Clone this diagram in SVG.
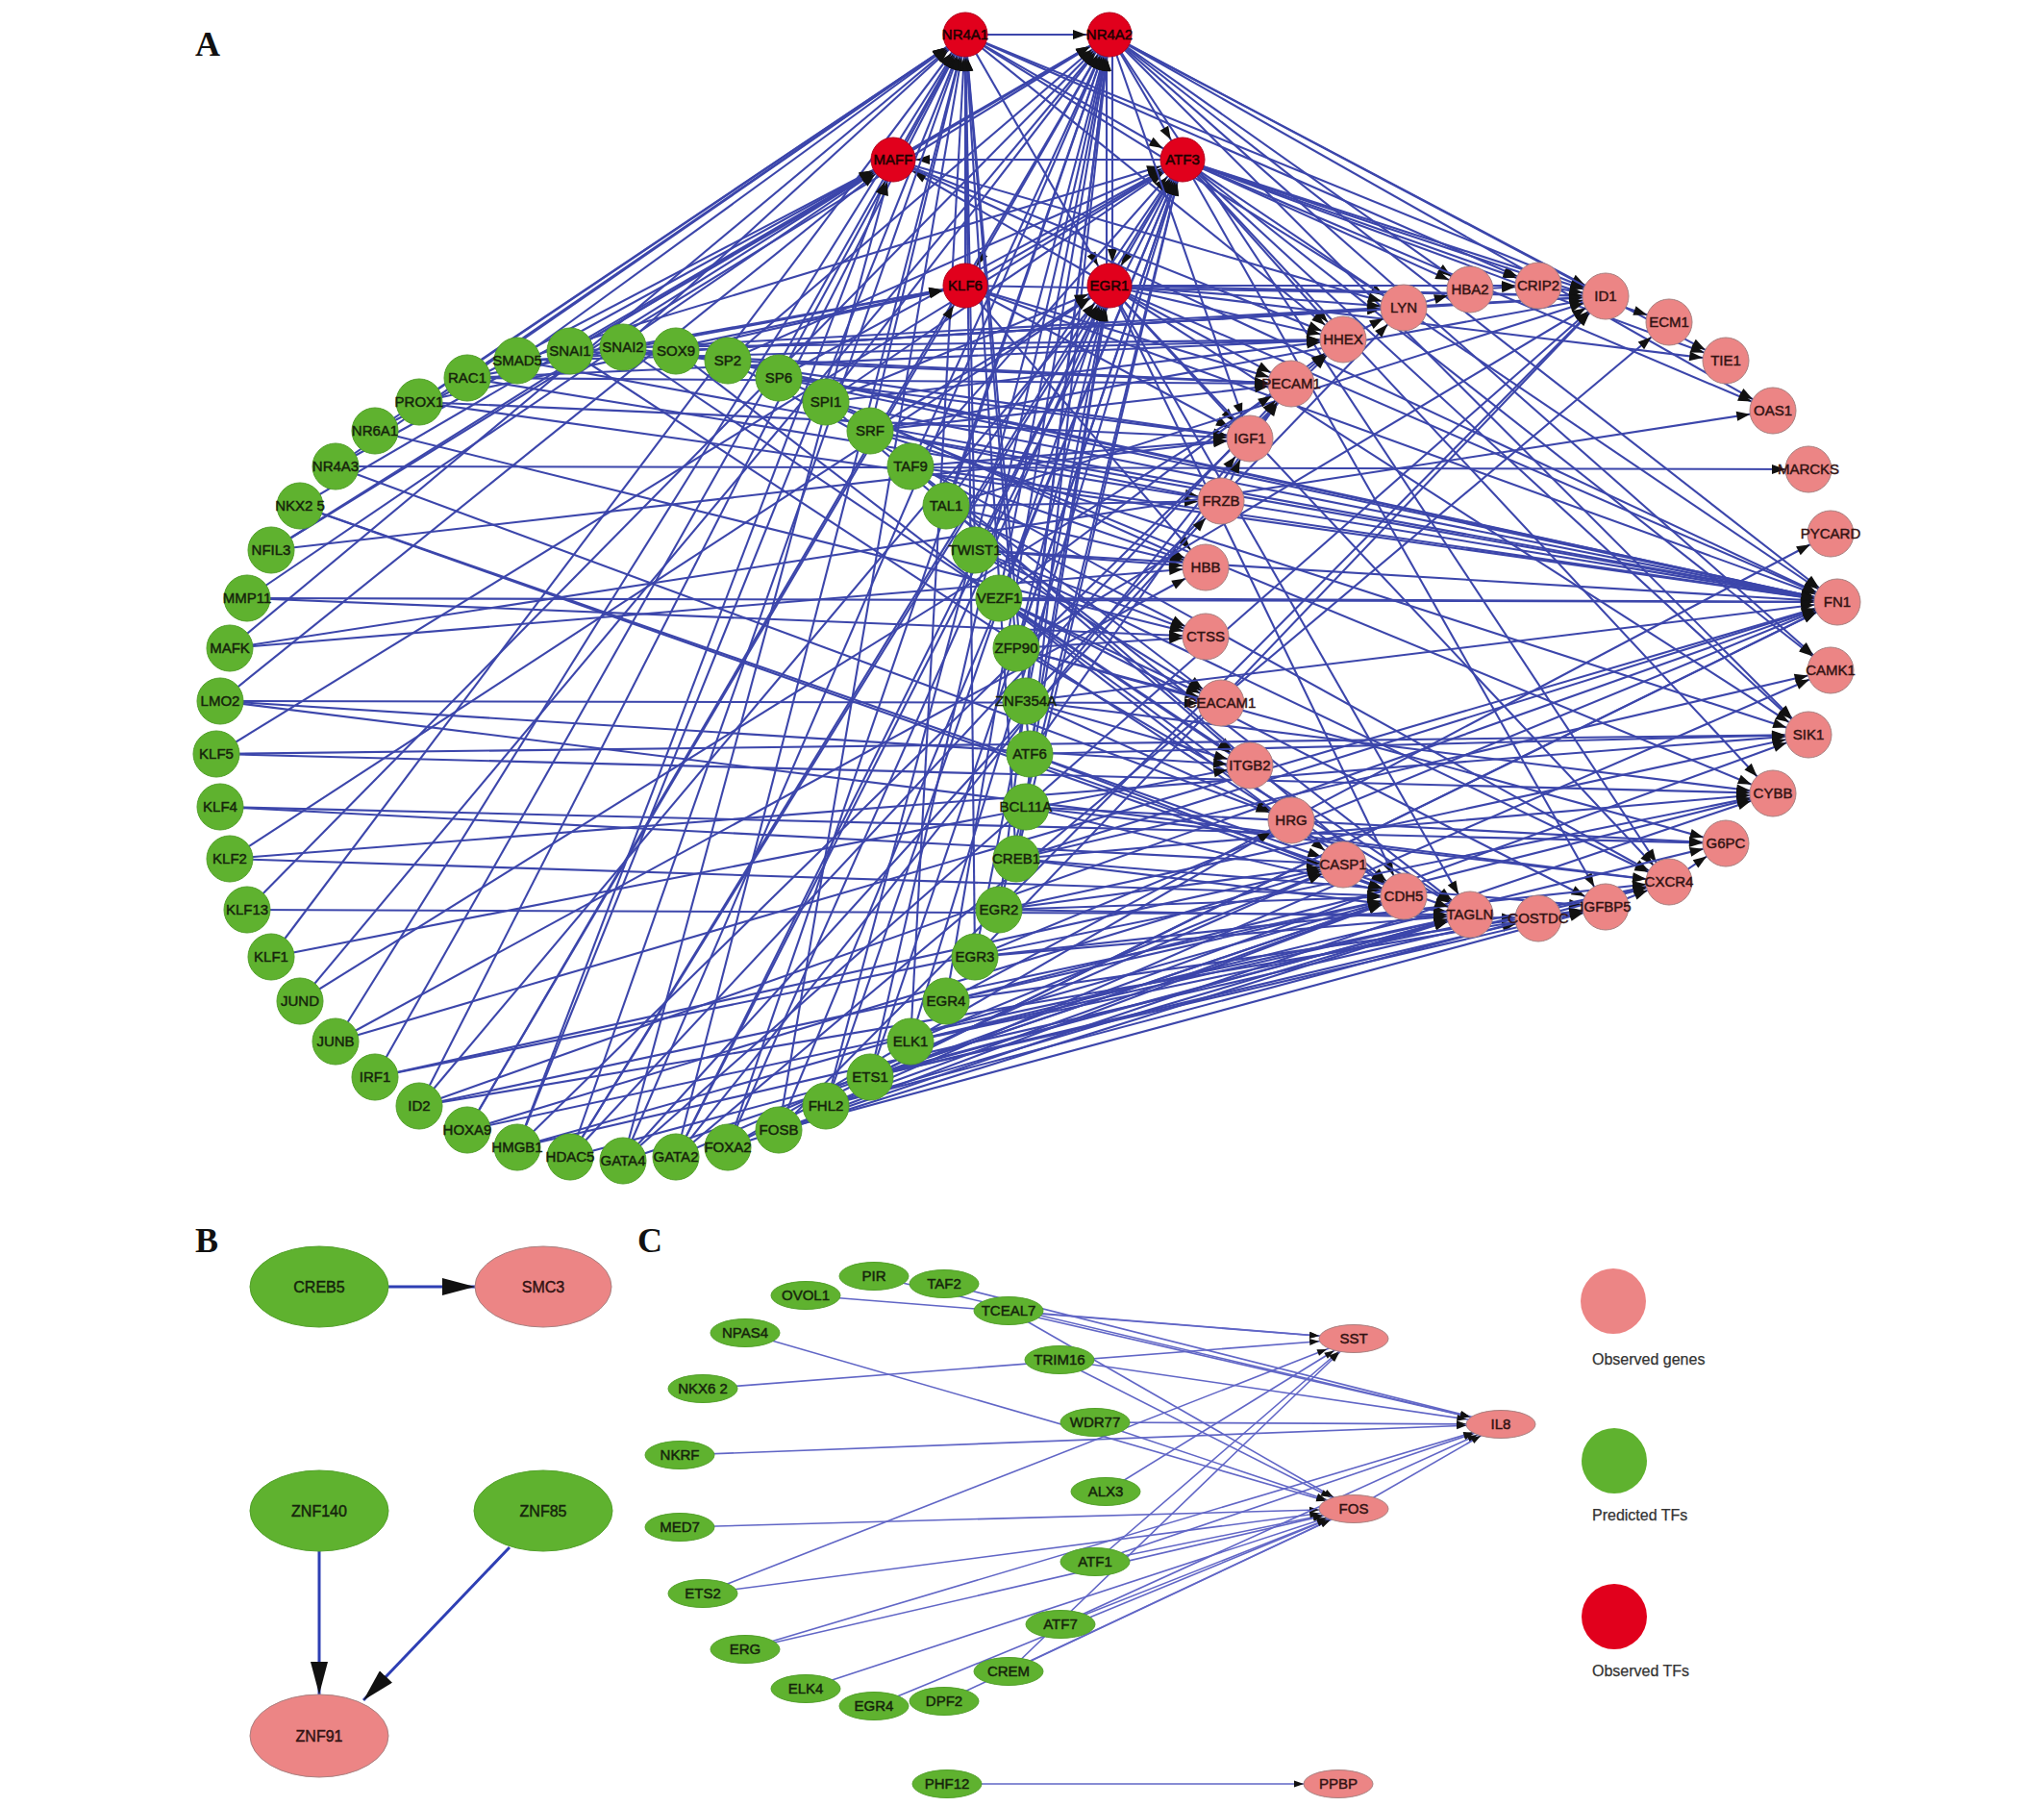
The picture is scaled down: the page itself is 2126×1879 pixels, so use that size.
<svg xmlns="http://www.w3.org/2000/svg" width="2126" height="1879" viewBox="0 0 2126 1879">
<style>
.e line{stroke:#3c46ab;stroke-width:2.1;fill:none;marker-end:url(#a)}
.g{fill:#5fb22f;stroke:#52a02a;stroke-width:1}
.p{fill:#ec8585;stroke:#a98080;stroke-width:1}
.r{fill:#e1001c;stroke:#b3001a;stroke-width:1}
text{font-family:"Liberation Sans",Arial,sans-serif;font-size:15px;text-anchor:middle}
.gt{fill:#15240c;stroke:#15240c;stroke-width:0.45}
.pt{fill:#331313;stroke:#331313;stroke-width:0.45}
.rt{fill:#200000;stroke:#200000;stroke-width:0.5}
.pl{font-family:"Liberation Serif","Times New Roman",serif;font-weight:bold;font-size:36px;text-anchor:start;fill:#111}
.lg{font-size:16px;text-anchor:start;fill:#333;stroke:#333;stroke-width:0.25}
.bt{font-size:16px}
.b line{stroke:#2e3fb4;stroke-width:3;marker-end:url(#bm)}
.c line{stroke:#6166c6;stroke-width:1.6}
.m36{marker-end:url(#c36)}.m33{marker-end:url(#c33)}.m30{marker-end:url(#c30)}.m27{marker-end:url(#c27)}.m24{marker-end:url(#c24)}.m21{marker-end:url(#c21)}
</style>
<defs>
<marker id="a" markerUnits="userSpaceOnUse" markerWidth="40" markerHeight="12" viewBox="0 0 40 12" refX="40" refY="6" orient="auto"><path d="M2,1 L16,6 L2,11 z" fill="#111"/></marker>
<marker id="bm" markerUnits="userSpaceOnUse" markerWidth="34" markerHeight="18" viewBox="0 0 34 18" refX="34" refY="9" orient="auto"><path d="M0,0 L34,9 L0,18 z" fill="#111"/></marker>
<marker id="c36" markerUnits="userSpaceOnUse" markerWidth="50" markerHeight="10" viewBox="0 0 50 10" refX="50" refY="5" orient="auto"><path d="M4,1.5 L14,5 L4,8.5 z" fill="#111"/></marker>
<marker id="c33" markerUnits="userSpaceOnUse" markerWidth="50" markerHeight="10" viewBox="0 0 50 10" refX="50" refY="5" orient="auto"><path d="M7,1.5 L17,5 L7,8.5 z" fill="#111"/></marker>
<marker id="c30" markerUnits="userSpaceOnUse" markerWidth="50" markerHeight="10" viewBox="0 0 50 10" refX="50" refY="5" orient="auto"><path d="M10,1.5 L20,5 L10,8.5 z" fill="#111"/></marker>
<marker id="c27" markerUnits="userSpaceOnUse" markerWidth="50" markerHeight="10" viewBox="0 0 50 10" refX="50" refY="5" orient="auto"><path d="M13,1.5 L23,5 L13,8.5 z" fill="#111"/></marker>
<marker id="c24" markerUnits="userSpaceOnUse" markerWidth="50" markerHeight="10" viewBox="0 0 50 10" refX="50" refY="5" orient="auto"><path d="M16,1.5 L26,5 L16,8.5 z" fill="#111"/></marker>
<marker id="c21" markerUnits="userSpaceOnUse" markerWidth="50" markerHeight="10" viewBox="0 0 50 10" refX="50" refY="5" orient="auto"><path d="M19,1.5 L29,5 L19,8.5 z" fill="#111"/></marker>
</defs>
<rect width="2126" height="1879" fill="#fff"/>
<text class="pl" x="203" y="58">A</text>
<text class="pl" x="203" y="1302">B</text>
<text class="pl" x="663" y="1302">C</text>

<g id="edges-A" class="e">
<line x1="1004" y1="36" x2="1154" y2="36"/>
<line x1="1004" y1="36" x2="1230" y2="166"/>
<line x1="1004" y1="36" x2="1154" y2="297"/>
<line x1="1154" y1="36" x2="1230" y2="166"/>
<line x1="1157" y1="36" x2="1157" y2="297"/>
<line x1="1154" y1="36" x2="1004" y2="297"/>
<line x1="1230" y1="166" x2="929" y2="166"/>
<line x1="1230" y1="166" x2="1154" y2="297"/>
<line x1="929" y1="166" x2="1154" y2="36"/>
<line x1="1004" y1="297" x2="1004" y2="36"/>
<line x1="1151" y1="297" x2="1151" y2="36"/>
<line x1="1004" y1="297" x2="1230" y2="166"/>
<line x1="1154" y1="297" x2="929" y2="166"/>
<line x1="349" y1="485" x2="1004" y2="36"/>
<line x1="390" y1="448" x2="1004" y2="36"/>
<line x1="436" y1="418" x2="1004" y2="36"/>
<line x1="486" y1="393" x2="1004" y2="36"/>
<line x1="538" y1="375" x2="1004" y2="36"/>
<line x1="648" y1="361" x2="1004" y2="36"/>
<line x1="810" y1="393" x2="1004" y2="36"/>
<line x1="905" y1="448" x2="1004" y2="36"/>
<line x1="1014" y1="572" x2="1004" y2="36"/>
<line x1="1057" y1="674" x2="1004" y2="36"/>
<line x1="1071" y1="784" x2="1004" y2="36"/>
<line x1="1057" y1="893" x2="1004" y2="36"/>
<line x1="1014" y1="995" x2="1004" y2="36"/>
<line x1="947" y1="1083" x2="1004" y2="36"/>
<line x1="810" y1="1175" x2="1004" y2="36"/>
<line x1="703" y1="1203" x2="1004" y2="36"/>
<line x1="538" y1="1193" x2="1004" y2="36"/>
<line x1="593" y1="1203" x2="1004" y2="36"/>
<line x1="436" y1="1150" x2="1004" y2="36"/>
<line x1="390" y1="1120" x2="1004" y2="36"/>
<line x1="349" y1="1083" x2="1004" y2="36"/>
<line x1="282" y1="995" x2="1004" y2="36"/>
<line x1="239" y1="674" x2="1004" y2="36"/>
<line x1="593" y1="365" x2="1154" y2="36"/>
<line x1="757" y1="375" x2="1154" y2="36"/>
<line x1="859" y1="418" x2="1154" y2="36"/>
<line x1="947" y1="485" x2="1154" y2="36"/>
<line x1="984" y1="526" x2="1154" y2="36"/>
<line x1="1039" y1="622" x2="1154" y2="36"/>
<line x1="1067" y1="729" x2="1154" y2="36"/>
<line x1="1067" y1="839" x2="1154" y2="36"/>
<line x1="1039" y1="946" x2="1154" y2="36"/>
<line x1="984" y1="1041" x2="1154" y2="36"/>
<line x1="905" y1="1120" x2="1154" y2="36"/>
<line x1="859" y1="1150" x2="1154" y2="36"/>
<line x1="757" y1="1193" x2="1154" y2="36"/>
<line x1="648" y1="1207" x2="1154" y2="36"/>
<line x1="486" y1="1175" x2="1154" y2="36"/>
<line x1="312" y1="1041" x2="1154" y2="36"/>
<line x1="257" y1="946" x2="1154" y2="36"/>
<line x1="282" y1="572" x2="1154" y2="36"/>
<line x1="349" y1="485" x2="929" y2="166"/>
<line x1="390" y1="448" x2="929" y2="166"/>
<line x1="312" y1="526" x2="929" y2="166"/>
<line x1="282" y1="572" x2="929" y2="166"/>
<line x1="257" y1="622" x2="929" y2="166"/>
<line x1="593" y1="365" x2="929" y2="166"/>
<line x1="538" y1="1193" x2="929" y2="166"/>
<line x1="648" y1="1207" x2="929" y2="166"/>
<line x1="229" y1="729" x2="929" y2="166"/>
<line x1="538" y1="375" x2="1230" y2="166"/>
<line x1="757" y1="375" x2="1230" y2="166"/>
<line x1="810" y1="393" x2="1230" y2="166"/>
<line x1="859" y1="418" x2="1230" y2="166"/>
<line x1="947" y1="485" x2="1230" y2="166"/>
<line x1="984" y1="526" x2="1230" y2="166"/>
<line x1="1039" y1="622" x2="1230" y2="166"/>
<line x1="1057" y1="674" x2="1230" y2="166"/>
<line x1="1057" y1="893" x2="1230" y2="166"/>
<line x1="1039" y1="946" x2="1230" y2="166"/>
<line x1="947" y1="1083" x2="1230" y2="166"/>
<line x1="905" y1="1120" x2="1230" y2="166"/>
<line x1="810" y1="1175" x2="1230" y2="166"/>
<line x1="703" y1="1203" x2="1230" y2="166"/>
<line x1="225" y1="784" x2="1230" y2="166"/>
<line x1="593" y1="1203" x2="1230" y2="166"/>
<line x1="486" y1="393" x2="1004" y2="297"/>
<line x1="648" y1="361" x2="1004" y2="297"/>
<line x1="436" y1="418" x2="1004" y2="297"/>
<line x1="703" y1="365" x2="1004" y2="297"/>
<line x1="486" y1="1175" x2="1004" y2="297"/>
<line x1="859" y1="418" x2="1154" y2="297"/>
<line x1="905" y1="448" x2="1154" y2="297"/>
<line x1="1014" y1="572" x2="1154" y2="297"/>
<line x1="1057" y1="674" x2="1154" y2="297"/>
<line x1="1071" y1="784" x2="1154" y2="297"/>
<line x1="1057" y1="893" x2="1154" y2="297"/>
<line x1="1014" y1="995" x2="1154" y2="297"/>
<line x1="859" y1="1150" x2="1154" y2="297"/>
<line x1="757" y1="1193" x2="1154" y2="297"/>
<line x1="703" y1="1203" x2="1154" y2="297"/>
<line x1="593" y1="1203" x2="1154" y2="297"/>
<line x1="239" y1="893" x2="1154" y2="297"/>
<line x1="436" y1="1150" x2="1154" y2="297"/>
<line x1="1004" y1="36" x2="1460" y2="320"/>
<line x1="1004" y1="36" x2="1670" y2="308"/>
<line x1="1004" y1="36" x2="1397" y2="353"/>
<line x1="1004" y1="36" x2="1600" y2="297"/>
<line x1="1154" y1="36" x2="1670" y2="308"/>
<line x1="1154" y1="36" x2="1795" y2="375"/>
<line x1="1154" y1="36" x2="1844" y2="427"/>
<line x1="1154" y1="36" x2="1911" y2="626"/>
<line x1="1154" y1="36" x2="1904" y2="697"/>
<line x1="1154" y1="36" x2="1881" y2="764"/>
<line x1="1154" y1="36" x2="1529" y2="301"/>
<line x1="1154" y1="36" x2="1300" y2="456"/>
<line x1="1154" y1="36" x2="1736" y2="917"/>
<line x1="1230" y1="166" x2="1670" y2="308"/>
<line x1="1230" y1="166" x2="1600" y2="297"/>
<line x1="1230" y1="166" x2="1529" y2="301"/>
<line x1="1230" y1="166" x2="1795" y2="375"/>
<line x1="1230" y1="166" x2="1736" y2="335"/>
<line x1="1230" y1="166" x2="1844" y2="427"/>
<line x1="1230" y1="166" x2="1911" y2="626"/>
<line x1="1230" y1="166" x2="1904" y2="697"/>
<line x1="1230" y1="166" x2="1881" y2="764"/>
<line x1="1230" y1="166" x2="1397" y2="353"/>
<line x1="1230" y1="166" x2="1844" y2="825"/>
<line x1="1230" y1="166" x2="1670" y2="943"/>
<line x1="929" y1="166" x2="1397" y2="353"/>
<line x1="929" y1="166" x2="1460" y2="320"/>
<line x1="929" y1="166" x2="1911" y2="626"/>
<line x1="1004" y1="297" x2="1670" y2="308"/>
<line x1="1004" y1="297" x2="1343" y2="399"/>
<line x1="1004" y1="297" x2="1300" y2="456"/>
<line x1="1004" y1="297" x2="1911" y2="626"/>
<line x1="1004" y1="297" x2="1254" y2="590"/>
<line x1="1154" y1="297" x2="1670" y2="308"/>
<line x1="1154" y1="297" x2="1460" y2="320"/>
<line x1="1154" y1="297" x2="1600" y2="297"/>
<line x1="1154" y1="297" x2="1911" y2="626"/>
<line x1="1154" y1="297" x2="1343" y2="399"/>
<line x1="1154" y1="297" x2="1397" y2="353"/>
<line x1="1154" y1="297" x2="1300" y2="456"/>
<line x1="1154" y1="297" x2="1795" y2="375"/>
<line x1="1154" y1="297" x2="1881" y2="764"/>
<line x1="1154" y1="297" x2="1736" y2="917"/>
<line x1="1154" y1="297" x2="1460" y2="932"/>
<line x1="1154" y1="297" x2="1529" y2="951"/>
<line x1="538" y1="375" x2="1397" y2="353"/>
<line x1="538" y1="375" x2="1911" y2="626"/>
<line x1="538" y1="375" x2="1460" y2="320"/>
<line x1="593" y1="365" x2="1343" y2="399"/>
<line x1="593" y1="365" x2="1670" y2="308"/>
<line x1="593" y1="365" x2="1460" y2="932"/>
<line x1="648" y1="361" x2="1397" y2="353"/>
<line x1="648" y1="361" x2="1300" y2="456"/>
<line x1="648" y1="361" x2="1529" y2="951"/>
<line x1="703" y1="365" x2="1911" y2="626"/>
<line x1="703" y1="365" x2="1460" y2="320"/>
<line x1="703" y1="365" x2="1670" y2="308"/>
<line x1="703" y1="365" x2="1397" y2="899"/>
<line x1="757" y1="375" x2="1911" y2="626"/>
<line x1="757" y1="375" x2="1343" y2="399"/>
<line x1="757" y1="375" x2="1736" y2="917"/>
<line x1="810" y1="393" x2="1911" y2="626"/>
<line x1="810" y1="393" x2="1300" y2="456"/>
<line x1="810" y1="393" x2="1254" y2="590"/>
<line x1="859" y1="418" x2="1911" y2="626"/>
<line x1="859" y1="418" x2="1397" y2="353"/>
<line x1="859" y1="418" x2="1300" y2="796"/>
<line x1="859" y1="418" x2="1844" y2="825"/>
<line x1="905" y1="448" x2="1911" y2="626"/>
<line x1="905" y1="448" x2="1270" y2="521"/>
<line x1="905" y1="448" x2="1343" y2="399"/>
<line x1="905" y1="448" x2="1670" y2="308"/>
<line x1="905" y1="448" x2="1881" y2="764"/>
<line x1="947" y1="485" x2="1911" y2="626"/>
<line x1="947" y1="485" x2="1300" y2="456"/>
<line x1="947" y1="485" x2="1270" y2="731"/>
<line x1="947" y1="485" x2="1254" y2="590"/>
<line x1="947" y1="485" x2="1460" y2="932"/>
<line x1="984" y1="526" x2="1254" y2="590"/>
<line x1="984" y1="526" x2="1270" y2="521"/>
<line x1="984" y1="526" x2="1670" y2="308"/>
<line x1="984" y1="526" x2="1254" y2="662"/>
<line x1="984" y1="526" x2="1529" y2="951"/>
<line x1="1014" y1="572" x2="1254" y2="590"/>
<line x1="1014" y1="572" x2="1254" y2="662"/>
<line x1="1014" y1="572" x2="1270" y2="731"/>
<line x1="1014" y1="572" x2="1911" y2="626"/>
<line x1="1014" y1="572" x2="1736" y2="917"/>
<line x1="1039" y1="622" x2="1300" y2="796"/>
<line x1="1039" y1="622" x2="1270" y2="731"/>
<line x1="1039" y1="622" x2="1911" y2="626"/>
<line x1="1039" y1="622" x2="1670" y2="943"/>
<line x1="1039" y1="622" x2="1460" y2="932"/>
<line x1="1039" y1="622" x2="1397" y2="353"/>
<line x1="1057" y1="674" x2="1270" y2="731"/>
<line x1="1057" y1="674" x2="1254" y2="662"/>
<line x1="1057" y1="674" x2="1795" y2="877"/>
<line x1="1057" y1="674" x2="1529" y2="951"/>
<line x1="1057" y1="674" x2="1670" y2="308"/>
<line x1="1067" y1="729" x2="1300" y2="796"/>
<line x1="1067" y1="729" x2="1343" y2="853"/>
<line x1="1067" y1="729" x2="1911" y2="626"/>
<line x1="1067" y1="729" x2="1844" y2="825"/>
<line x1="1067" y1="729" x2="1460" y2="320"/>
<line x1="1071" y1="784" x2="1397" y2="899"/>
<line x1="1071" y1="784" x2="1881" y2="764"/>
<line x1="1071" y1="784" x2="1460" y2="932"/>
<line x1="1071" y1="784" x2="1343" y2="399"/>
<line x1="1067" y1="839" x2="1460" y2="932"/>
<line x1="1067" y1="839" x2="1795" y2="877"/>
<line x1="1067" y1="839" x2="1736" y2="917"/>
<line x1="1057" y1="893" x2="1529" y2="951"/>
<line x1="1057" y1="893" x2="1844" y2="825"/>
<line x1="1057" y1="893" x2="1911" y2="626"/>
<line x1="1057" y1="893" x2="1904" y2="697"/>
<line x1="1057" y1="893" x2="1670" y2="943"/>
<line x1="1039" y1="946" x2="1460" y2="932"/>
<line x1="1039" y1="946" x2="1397" y2="899"/>
<line x1="1039" y1="946" x2="1881" y2="764"/>
<line x1="1039" y1="946" x2="1600" y2="955"/>
<line x1="1014" y1="995" x2="1529" y2="951"/>
<line x1="1014" y1="995" x2="1736" y2="917"/>
<line x1="1014" y1="995" x2="1911" y2="626"/>
<line x1="1014" y1="995" x2="1670" y2="308"/>
<line x1="984" y1="1041" x2="1460" y2="932"/>
<line x1="984" y1="1041" x2="1670" y2="943"/>
<line x1="984" y1="1041" x2="1844" y2="825"/>
<line x1="984" y1="1041" x2="1904" y2="555"/>
<line x1="947" y1="1083" x2="1529" y2="951"/>
<line x1="947" y1="1083" x2="1397" y2="899"/>
<line x1="947" y1="1083" x2="1736" y2="917"/>
<line x1="947" y1="1083" x2="1795" y2="877"/>
<line x1="905" y1="1120" x2="1460" y2="932"/>
<line x1="905" y1="1120" x2="1529" y2="951"/>
<line x1="905" y1="1120" x2="1600" y2="955"/>
<line x1="905" y1="1120" x2="1670" y2="943"/>
<line x1="905" y1="1120" x2="1911" y2="626"/>
<line x1="905" y1="1120" x2="1881" y2="764"/>
<line x1="859" y1="1150" x2="1460" y2="932"/>
<line x1="859" y1="1150" x2="1529" y2="951"/>
<line x1="859" y1="1150" x2="1736" y2="917"/>
<line x1="859" y1="1150" x2="1904" y2="697"/>
<line x1="810" y1="1175" x2="1460" y2="932"/>
<line x1="810" y1="1175" x2="1670" y2="943"/>
<line x1="810" y1="1175" x2="1844" y2="825"/>
<line x1="810" y1="1175" x2="1670" y2="308"/>
<line x1="757" y1="1193" x2="1529" y2="951"/>
<line x1="757" y1="1193" x2="1343" y2="853"/>
<line x1="757" y1="1193" x2="1911" y2="626"/>
<line x1="703" y1="1203" x2="1397" y2="899"/>
<line x1="703" y1="1203" x2="1736" y2="335"/>
<line x1="703" y1="1203" x2="1300" y2="456"/>
<line x1="648" y1="1207" x2="1460" y2="932"/>
<line x1="648" y1="1207" x2="1670" y2="308"/>
<line x1="648" y1="1207" x2="1270" y2="521"/>
<line x1="593" y1="1203" x2="1529" y2="951"/>
<line x1="593" y1="1203" x2="1343" y2="399"/>
<line x1="538" y1="1193" x2="1460" y2="932"/>
<line x1="538" y1="1193" x2="1736" y2="917"/>
<line x1="538" y1="1193" x2="1397" y2="353"/>
<line x1="486" y1="1175" x2="1397" y2="899"/>
<line x1="486" y1="1175" x2="1529" y2="951"/>
<line x1="436" y1="1150" x2="1460" y2="932"/>
<line x1="436" y1="1150" x2="1670" y2="943"/>
<line x1="436" y1="1150" x2="1911" y2="626"/>
<line x1="390" y1="1120" x2="1397" y2="899"/>
<line x1="390" y1="1120" x2="1844" y2="825"/>
<line x1="349" y1="1083" x2="1254" y2="590"/>
<line x1="349" y1="1083" x2="1911" y2="626"/>
<line x1="312" y1="1041" x2="1343" y2="399"/>
<line x1="282" y1="995" x2="1300" y2="796"/>
<line x1="257" y1="946" x2="1529" y2="951"/>
<line x1="239" y1="893" x2="1460" y2="932"/>
<line x1="239" y1="893" x2="1881" y2="764"/>
<line x1="229" y1="839" x2="1397" y2="899"/>
<line x1="229" y1="839" x2="1795" y2="877"/>
<line x1="225" y1="784" x2="1881" y2="764"/>
<line x1="225" y1="784" x2="1844" y2="825"/>
<line x1="229" y1="729" x2="1270" y2="731"/>
<line x1="229" y1="729" x2="1300" y2="796"/>
<line x1="229" y1="729" x2="1736" y2="917"/>
<line x1="239" y1="674" x2="1254" y2="590"/>
<line x1="239" y1="674" x2="1844" y2="427"/>
<line x1="257" y1="622" x2="1911" y2="626"/>
<line x1="257" y1="622" x2="1254" y2="662"/>
<line x1="282" y1="572" x2="1300" y2="456"/>
<line x1="312" y1="526" x2="1460" y2="932"/>
<line x1="312" y1="526" x2="1529" y2="951"/>
<line x1="349" y1="485" x2="1343" y2="853"/>
<line x1="349" y1="485" x2="1881" y2="488"/>
<line x1="390" y1="448" x2="1254" y2="662"/>
<line x1="436" y1="418" x2="1911" y2="626"/>
<line x1="436" y1="418" x2="1300" y2="456"/>
<line x1="486" y1="393" x2="1911" y2="626"/>
<line x1="486" y1="393" x2="1397" y2="353"/>
<line x1="486" y1="393" x2="1343" y2="399"/>
<line x1="1460" y1="320" x2="1529" y2="301"/>
<line x1="1529" y1="301" x2="1600" y2="297"/>
<line x1="1600" y1="297" x2="1670" y2="308"/>
<line x1="1397" y1="353" x2="1460" y2="320"/>
<line x1="1343" y1="399" x2="1397" y2="353"/>
<line x1="1300" y1="456" x2="1343" y2="399"/>
<line x1="1270" y1="521" x2="1300" y2="456"/>
<line x1="1600" y1="955" x2="1670" y2="943"/>
<line x1="1670" y1="943" x2="1736" y2="917"/>
<line x1="1736" y1="917" x2="1795" y2="877"/>
</g>

<g id="nodes-A-red">
<g id="NR4A1"><circle class="r" cx="1004" cy="36" r="23"/><text class="rt" x="1004" y="41">NR4A1</text></g>
<g id="NR4A2"><circle class="r" cx="1154" cy="36" r="23"/><text class="rt" x="1154" y="41">NR4A2</text></g>
<g id="MAFF"><circle class="r" cx="929" cy="166" r="23"/><text class="rt" x="929" y="171">MAFF</text></g>
<g id="ATF3"><circle class="r" cx="1230" cy="166" r="23"/><text class="rt" x="1230" y="171">ATF3</text></g>
<g id="KLF6"><circle class="r" cx="1004" cy="297" r="23"/><text class="rt" x="1004" y="302">KLF6</text></g>
<g id="EGR1"><circle class="r" cx="1154" cy="297" r="23"/><text class="rt" x="1154" y="302">EGR1</text></g>
</g>

<g id="nodes-A-green">
<g id="SMAD5"><circle class="g" cx="538" cy="375" r="24"/><text class="gt" x="538" y="380">SMAD5</text></g>
<g id="SNAI1"><circle class="g" cx="593" cy="365" r="24"/><text class="gt" x="593" y="370">SNAI1</text></g>
<g id="SNAI2"><circle class="g" cx="648" cy="361" r="24"/><text class="gt" x="648" y="366">SNAI2</text></g>
<g id="SOX9"><circle class="g" cx="703" cy="365" r="24"/><text class="gt" x="703" y="370">SOX9</text></g>
<g id="SP2"><circle class="g" cx="757" cy="375" r="24"/><text class="gt" x="757" y="380">SP2</text></g>
<g id="SP6"><circle class="g" cx="810" cy="393" r="24"/><text class="gt" x="810" y="398">SP6</text></g>
<g id="SPI1"><circle class="g" cx="859" cy="418" r="24"/><text class="gt" x="859" y="423">SPI1</text></g>
<g id="SRF"><circle class="g" cx="905" cy="448" r="24"/><text class="gt" x="905" y="453">SRF</text></g>
<g id="TAF9"><circle class="g" cx="947" cy="485" r="24"/><text class="gt" x="947" y="490">TAF9</text></g>
<g id="TAL1"><circle class="g" cx="984" cy="526" r="24"/><text class="gt" x="984" y="531">TAL1</text></g>
<g id="TWIST1"><circle class="g" cx="1014" cy="572" r="24"/><text class="gt" x="1014" y="577">TWIST1</text></g>
<g id="VEZF1"><circle class="g" cx="1039" cy="622" r="24"/><text class="gt" x="1039" y="627">VEZF1</text></g>
<g id="ZFP90"><circle class="g" cx="1057" cy="674" r="24"/><text class="gt" x="1057" y="679">ZFP90</text></g>
<g id="ZNF354A"><circle class="g" cx="1067" cy="729" r="24"/><text class="gt" x="1067" y="734">ZNF354A</text></g>
<g id="ATF6"><circle class="g" cx="1071" cy="784" r="24"/><text class="gt" x="1071" y="789">ATF6</text></g>
<g id="BCL11A"><circle class="g" cx="1067" cy="839" r="24"/><text class="gt" x="1067" y="844">BCL11A</text></g>
<g id="CREB1"><circle class="g" cx="1057" cy="893" r="24"/><text class="gt" x="1057" y="898">CREB1</text></g>
<g id="EGR2"><circle class="g" cx="1039" cy="946" r="24"/><text class="gt" x="1039" y="951">EGR2</text></g>
<g id="EGR3"><circle class="g" cx="1014" cy="995" r="24"/><text class="gt" x="1014" y="1000">EGR3</text></g>
<g id="EGR4"><circle class="g" cx="984" cy="1041" r="24"/><text class="gt" x="984" y="1046">EGR4</text></g>
<g id="ELK1"><circle class="g" cx="947" cy="1083" r="24"/><text class="gt" x="947" y="1088">ELK1</text></g>
<g id="ETS1"><circle class="g" cx="905" cy="1120" r="24"/><text class="gt" x="905" y="1125">ETS1</text></g>
<g id="FHL2"><circle class="g" cx="859" cy="1150" r="24"/><text class="gt" x="859" y="1155">FHL2</text></g>
<g id="FOSB"><circle class="g" cx="810" cy="1175" r="24"/><text class="gt" x="810" y="1180">FOSB</text></g>
<g id="FOXA2"><circle class="g" cx="757" cy="1193" r="24"/><text class="gt" x="757" y="1198">FOXA2</text></g>
<g id="GATA2"><circle class="g" cx="703" cy="1203" r="24"/><text class="gt" x="703" y="1208">GATA2</text></g>
<g id="GATA4"><circle class="g" cx="648" cy="1207" r="24"/><text class="gt" x="648" y="1212">GATA4</text></g>
<g id="HDAC5"><circle class="g" cx="593" cy="1203" r="24"/><text class="gt" x="593" y="1208">HDAC5</text></g>
<g id="HMGB1"><circle class="g" cx="538" cy="1193" r="24"/><text class="gt" x="538" y="1198">HMGB1</text></g>
<g id="HOXA9"><circle class="g" cx="486" cy="1175" r="24"/><text class="gt" x="486" y="1180">HOXA9</text></g>
<g id="ID2"><circle class="g" cx="436" cy="1150" r="24"/><text class="gt" x="436" y="1155">ID2</text></g>
<g id="IRF1"><circle class="g" cx="390" cy="1120" r="24"/><text class="gt" x="390" y="1125">IRF1</text></g>
<g id="JUNB"><circle class="g" cx="349" cy="1083" r="24"/><text class="gt" x="349" y="1088">JUNB</text></g>
<g id="JUND"><circle class="g" cx="312" cy="1041" r="24"/><text class="gt" x="312" y="1046">JUND</text></g>
<g id="KLF1"><circle class="g" cx="282" cy="995" r="24"/><text class="gt" x="282" y="1000">KLF1</text></g>
<g id="KLF13"><circle class="g" cx="257" cy="946" r="24"/><text class="gt" x="257" y="951">KLF13</text></g>
<g id="KLF2"><circle class="g" cx="239" cy="893" r="24"/><text class="gt" x="239" y="898">KLF2</text></g>
<g id="KLF4"><circle class="g" cx="229" cy="839" r="24"/><text class="gt" x="229" y="844">KLF4</text></g>
<g id="KLF5"><circle class="g" cx="225" cy="784" r="24"/><text class="gt" x="225" y="789">KLF5</text></g>
<g id="LMO2"><circle class="g" cx="229" cy="729" r="24"/><text class="gt" x="229" y="734">LMO2</text></g>
<g id="MAFK"><circle class="g" cx="239" cy="674" r="24"/><text class="gt" x="239" y="679">MAFK</text></g>
<g id="MMP11"><circle class="g" cx="257" cy="622" r="24"/><text class="gt" x="257" y="627">MMP11</text></g>
<g id="NFIL3"><circle class="g" cx="282" cy="572" r="24"/><text class="gt" x="282" y="577">NFIL3</text></g>
<g id="NKX2-5"><circle class="g" cx="312" cy="526" r="24"/><text class="gt" x="312" y="531">NKX2 5</text></g>
<g id="NR4A3"><circle class="g" cx="349" cy="485" r="24"/><text class="gt" x="349" y="490">NR4A3</text></g>
<g id="NR6A1"><circle class="g" cx="390" cy="448" r="24"/><text class="gt" x="390" y="453">NR6A1</text></g>
<g id="PROX1"><circle class="g" cx="436" cy="418" r="24"/><text class="gt" x="436" y="423">PROX1</text></g>
<g id="RAC1"><circle class="g" cx="486" cy="393" r="24"/><text class="gt" x="486" y="398">RAC1</text></g>
</g>

<g id="nodes-A-pink">
<g id="LYN"><circle class="p" cx="1460" cy="320" r="24"/><text class="pt" x="1460" y="325">LYN</text></g>
<g id="HBA2"><circle class="p" cx="1529" cy="301" r="24"/><text class="pt" x="1529" y="306">HBA2</text></g>
<g id="CRIP2"><circle class="p" cx="1600" cy="297" r="24"/><text class="pt" x="1600" y="302">CRIP2</text></g>
<g id="ID1"><circle class="p" cx="1670" cy="308" r="24"/><text class="pt" x="1670" y="313">ID1</text></g>
<g id="ECM1"><circle class="p" cx="1736" cy="335" r="24"/><text class="pt" x="1736" y="340">ECM1</text></g>
<g id="TIE1"><circle class="p" cx="1795" cy="375" r="24"/><text class="pt" x="1795" y="380">TIE1</text></g>
<g id="OAS1"><circle class="p" cx="1844" cy="427" r="24"/><text class="pt" x="1844" y="432">OAS1</text></g>
<g id="MARCKS"><circle class="p" cx="1881" cy="488" r="24"/><text class="pt" x="1881" y="493">MARCKS</text></g>
<g id="PYCARD"><circle class="p" cx="1904" cy="555" r="24"/><text class="pt" x="1904" y="560">PYCARD</text></g>
<g id="FN1"><circle class="p" cx="1911" cy="626" r="24"/><text class="pt" x="1911" y="631">FN1</text></g>
<g id="CAMK1"><circle class="p" cx="1904" cy="697" r="24"/><text class="pt" x="1904" y="702">CAMK1</text></g>
<g id="SIK1"><circle class="p" cx="1881" cy="764" r="24"/><text class="pt" x="1881" y="769">SIK1</text></g>
<g id="CYBB"><circle class="p" cx="1844" cy="825" r="24"/><text class="pt" x="1844" y="830">CYBB</text></g>
<g id="G6PC"><circle class="p" cx="1795" cy="877" r="24"/><text class="pt" x="1795" y="882">G6PC</text></g>
<g id="CXCR4"><circle class="p" cx="1736" cy="917" r="24"/><text class="pt" x="1736" y="922">CXCR4</text></g>
<g id="IGFBP5"><circle class="p" cx="1670" cy="943" r="24"/><text class="pt" x="1670" y="948">IGFBP5</text></g>
<g id="COSTDC"><circle class="p" cx="1600" cy="955" r="24"/><text class="pt" x="1600" y="960">COSTDC</text></g>
<g id="TAGLN"><circle class="p" cx="1529" cy="951" r="24"/><text class="pt" x="1529" y="956">TAGLN</text></g>
<g id="CDH5"><circle class="p" cx="1460" cy="932" r="24"/><text class="pt" x="1460" y="937">CDH5</text></g>
<g id="CASP1"><circle class="p" cx="1397" cy="899" r="24"/><text class="pt" x="1397" y="904">CASP1</text></g>
<g id="HRG"><circle class="p" cx="1343" cy="853" r="24"/><text class="pt" x="1343" y="858">HRG</text></g>
<g id="ITGB2"><circle class="p" cx="1300" cy="796" r="24"/><text class="pt" x="1300" y="801">ITGB2</text></g>
<g id="CEACAM1"><circle class="p" cx="1270" cy="731" r="24"/><text class="pt" x="1270" y="736">CEACAM1</text></g>
<g id="CTSS"><circle class="p" cx="1254" cy="662" r="24"/><text class="pt" x="1254" y="667">CTSS</text></g>
<g id="HBB"><circle class="p" cx="1254" cy="590" r="24"/><text class="pt" x="1254" y="595">HBB</text></g>
<g id="FRZB"><circle class="p" cx="1270" cy="521" r="24"/><text class="pt" x="1270" y="526">FRZB</text></g>
<g id="IGF1"><circle class="p" cx="1300" cy="456" r="24"/><text class="pt" x="1300" y="461">IGF1</text></g>
<g id="PECAM1"><circle class="p" cx="1343" cy="399" r="24"/><text class="pt" x="1343" y="404">PECAM1</text></g>
<g id="HHEX"><circle class="p" cx="1397" cy="353" r="24"/><text class="pt" x="1397" y="358">HHEX</text></g>
</g>

<g id="edges-B" class="b">
<line x1="404" y1="1338" x2="494" y2="1338"/>
<line x1="332" y1="1613" x2="332" y2="1762"/>
<line x1="530" y1="1609" x2="378" y2="1768"/>
</g>
<g id="nodes-B">
<g id="CREB5"><ellipse class="g" cx="332" cy="1338" rx="72" ry="42"/><text class="gt bt" x="332" y="1344">CREB5</text></g>
<g id="SMC3"><ellipse class="p" cx="565" cy="1338" rx="71" ry="42"/><text class="pt bt" x="565" y="1344">SMC3</text></g>
<g id="ZNF140"><ellipse class="g" cx="332" cy="1571" rx="72" ry="42"/><text class="gt bt" x="332" y="1577">ZNF140</text></g>
<g id="ZNF85"><ellipse class="g" cx="565" cy="1571" rx="72" ry="42"/><text class="gt bt" x="565" y="1577">ZNF85</text></g>
<g id="ZNF91"><ellipse class="p" cx="332" cy="1805" rx="72" ry="43"/><text class="pt bt" x="332" y="1811">ZNF91</text></g>
</g>

<g id="edges-C" class="c">
<line class="m36" x1="838" y1="1347" x2="1408" y2="1392"/>
<line class="m33" x1="909" y1="1327" x2="1561" y2="1481"/>
<line class="m33" x1="982" y1="1335" x2="1561" y2="1481"/>
<line class="m36" x1="1049" y1="1363" x2="1408" y2="1392"/>
<line class="m33" x1="1049" y1="1363" x2="1561" y2="1481"/>
<line class="m24" x1="1049" y1="1363" x2="1408" y2="1569"/>
<line class="m30" x1="775" y1="1386" x2="1408" y2="1569"/>
<line class="m36" x1="731" y1="1444" x2="1408" y2="1392"/>
<line class="m36" x1="1102" y1="1414" x2="1561" y2="1481"/>
<line class="m27" x1="1102" y1="1414" x2="1408" y2="1569"/>
<line class="m36" x1="707" y1="1513" x2="1561" y2="1481"/>
<line class="m36" x1="1139" y1="1479" x2="1561" y2="1481"/>
<line class="m30" x1="1139" y1="1479" x2="1408" y2="1569"/>
<line class="m24" x1="1150" y1="1551" x2="1408" y2="1392"/>
<line class="m36" x1="707" y1="1588" x2="1408" y2="1569"/>
<line class="m21" x1="1139" y1="1624" x2="1408" y2="1392"/>
<line class="m30" x1="1139" y1="1624" x2="1561" y2="1481"/>
<line class="m33" x1="1139" y1="1624" x2="1408" y2="1569"/>
<line class="m30" x1="731" y1="1657" x2="1408" y2="1392"/>
<line class="m36" x1="731" y1="1657" x2="1408" y2="1569"/>
<line class="m30" x1="775" y1="1715" x2="1561" y2="1481"/>
<line class="m33" x1="775" y1="1715" x2="1408" y2="1569"/>
<line class="m30" x1="838" y1="1756" x2="1408" y2="1569"/>
<line class="m27" x1="909" y1="1774" x2="1408" y2="1569"/>
<line class="m27" x1="982" y1="1769" x2="1408" y2="1569"/>
<line class="m27" x1="1049" y1="1738" x2="1408" y2="1569"/>
<line class="m21" x1="1049" y1="1738" x2="1408" y2="1392"/>
<line class="m30" x1="1103" y1="1689" x2="1408" y2="1569"/>
<line class="m27" x1="1103" y1="1689" x2="1561" y2="1481"/>
<line class="m24" x1="1408" y1="1569" x2="1561" y2="1481"/>
<line class="m36" x1="985" y1="1855" x2="1392" y2="1855"/>
</g>
<g id="nodes-C">
<g id="c-PIR"><ellipse class="g" cx="909" cy="1327" rx="36" ry="14.5"/><text class="gt" x="909" y="1332">PIR</text></g>
<g id="c-TAF2"><ellipse class="g" cx="982" cy="1335" rx="36" ry="14.5"/><text class="gt" x="982" y="1340">TAF2</text></g>
<g id="c-OVOL1"><ellipse class="g" cx="838" cy="1347" rx="36" ry="14.5"/><text class="gt" x="838" y="1352">OVOL1</text></g>
<g id="c-TCEAL7"><ellipse class="g" cx="1049" cy="1363" rx="36" ry="14.5"/><text class="gt" x="1049" y="1368">TCEAL7</text></g>
<g id="c-NPAS4"><ellipse class="g" cx="775" cy="1386" rx="36" ry="14.5"/><text class="gt" x="775" y="1391">NPAS4</text></g>
<g id="c-TRIM16"><ellipse class="g" cx="1102" cy="1414" rx="36" ry="14.5"/><text class="gt" x="1102" y="1419">TRIM16</text></g>
<g id="c-NKX6-2"><ellipse class="g" cx="731" cy="1444" rx="36" ry="14.5"/><text class="gt" x="731" y="1449">NKX6 2</text></g>
<g id="c-WDR77"><ellipse class="g" cx="1139" cy="1479" rx="36" ry="14.5"/><text class="gt" x="1139" y="1484">WDR77</text></g>
<g id="c-NKRF"><ellipse class="g" cx="707" cy="1513" rx="36" ry="14.5"/><text class="gt" x="707" y="1518">NKRF</text></g>
<g id="c-ALX3"><ellipse class="g" cx="1150" cy="1551" rx="36" ry="14.5"/><text class="gt" x="1150" y="1556">ALX3</text></g>
<g id="c-MED7"><ellipse class="g" cx="707" cy="1588" rx="36" ry="14.5"/><text class="gt" x="707" y="1593">MED7</text></g>
<g id="c-ATF1"><ellipse class="g" cx="1139" cy="1624" rx="36" ry="14.5"/><text class="gt" x="1139" y="1629">ATF1</text></g>
<g id="c-ETS2"><ellipse class="g" cx="731" cy="1657" rx="36" ry="14.5"/><text class="gt" x="731" y="1662">ETS2</text></g>
<g id="c-ATF7"><ellipse class="g" cx="1103" cy="1689" rx="36" ry="14.5"/><text class="gt" x="1103" y="1694">ATF7</text></g>
<g id="c-ERG"><ellipse class="g" cx="775" cy="1715" rx="36" ry="14.5"/><text class="gt" x="775" y="1720">ERG</text></g>
<g id="c-CREM"><ellipse class="g" cx="1049" cy="1738" rx="36" ry="14.5"/><text class="gt" x="1049" y="1743">CREM</text></g>
<g id="c-ELK4"><ellipse class="g" cx="838" cy="1756" rx="36" ry="14.5"/><text class="gt" x="838" y="1761">ELK4</text></g>
<g id="c-DPF2"><ellipse class="g" cx="982" cy="1769" rx="36" ry="14.5"/><text class="gt" x="982" y="1774">DPF2</text></g>
<g id="c-EGR4"><ellipse class="g" cx="909" cy="1774" rx="36" ry="14.5"/><text class="gt" x="909" y="1779">EGR4</text></g>
<g id="c-PHF12"><ellipse class="g" cx="985" cy="1855" rx="36" ry="14.5"/><text class="gt" x="985" y="1860">PHF12</text></g>
<g id="c-SST"><ellipse class="p" cx="1408" cy="1392" rx="36" ry="14.5"/><text class="pt" x="1408" y="1397">SST</text></g>
<g id="c-IL8"><ellipse class="p" cx="1561" cy="1481" rx="36" ry="14.5"/><text class="pt" x="1561" y="1486">IL8</text></g>
<g id="c-FOS"><ellipse class="p" cx="1408" cy="1569" rx="36" ry="14.5"/><text class="pt" x="1408" y="1574">FOS</text></g>
<g id="c-PPBP"><ellipse class="p" cx="1392" cy="1855" rx="36" ry="14.5"/><text class="pt" x="1392" y="1860">PPBP</text></g>
</g>

<g id="legend">
<g id="legend-genes"><circle cx="1678" cy="1353" r="34" fill="#ec8585"/><text class="lg" x="1656" y="1419">Observed genes</text></g>
<g id="legend-predicted"><circle cx="1679" cy="1519" r="34" fill="#5fb22f"/><text class="lg" x="1656" y="1581">Predicted TFs</text></g>
<g id="legend-observed"><circle cx="1679" cy="1681" r="34" fill="#e1001c"/><text class="lg" x="1656" y="1743">Observed TFs</text></g>
</g>
</svg>
